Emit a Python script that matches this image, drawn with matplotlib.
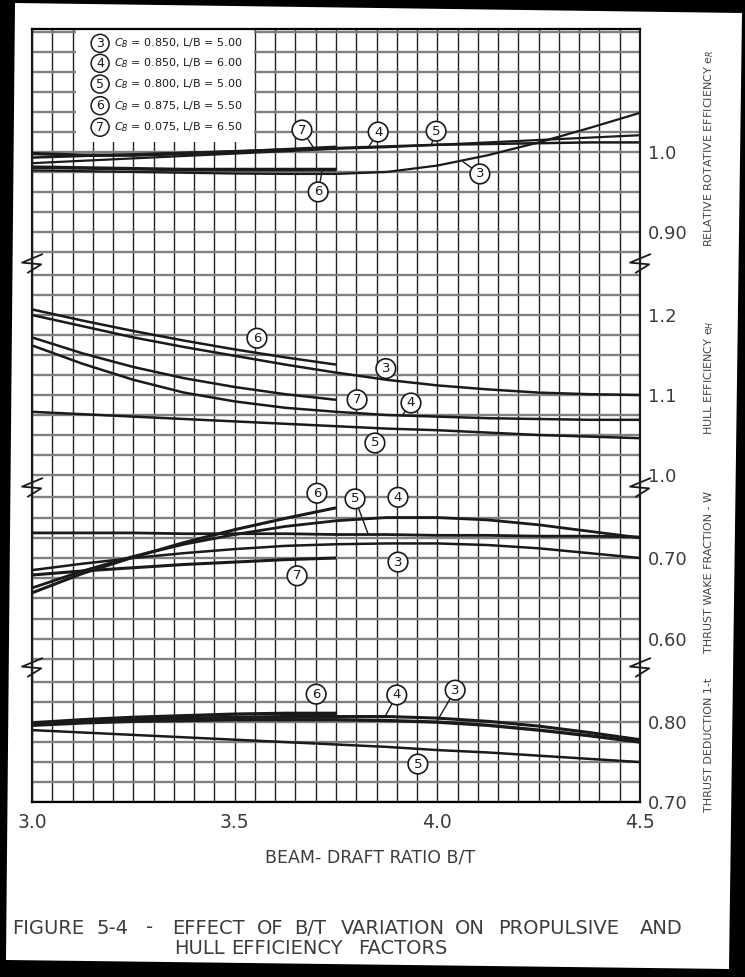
import matplotlib
matplotlib.use("Agg")
import matplotlib.pyplot as plt
from matplotlib.ticker import MultipleLocator, FixedLocator
from matplotlib.patches import Polygon, Rectangle

# ---- data ----
bt = [3.0, 3.125, 3.25, 3.375, 3.5, 3.625, 3.75, 3.875, 4.0, 4.125, 4.25, 4.375, 4.5]
bt_short = [3.0, 3.125, 3.25, 3.375, 3.5, 3.625, 3.75]

# relative rotative efficiency e_R
rr3 = [0.977, 0.976, 0.975, 0.974, 0.973, 0.9725, 0.9725, 0.975, 0.983, 0.996, 1.012, 1.030, 1.049]
rr4 = [0.993, 0.995, 0.997, 0.999, 1.001, 1.003, 1.005, 1.007, 1.009, 1.010, 1.011, 1.012, 1.012]
rr5 = [0.986, 0.989, 0.992, 0.995, 0.998, 1.001, 1.004, 1.006, 1.009, 1.012, 1.015, 1.018, 1.021]
rr6 = [0.981, 0.980, 0.979, 0.978, 0.978, 0.978, 0.978]
rr7 = [0.998, 0.996, 0.996, 0.998, 1.000, 1.003, 1.006]

# hull efficiency e_H
he3 = [1.200, 1.186, 1.172, 1.160, 1.149, 1.138, 1.128, 1.119, 1.112, 1.107, 1.103, 1.101, 1.100]
he4 = [1.162, 1.139, 1.119, 1.103, 1.092, 1.084, 1.079, 1.075, 1.073, 1.071, 1.070, 1.069, 1.069]
he5 = [1.079, 1.076, 1.073, 1.070, 1.067, 1.064, 1.061, 1.058, 1.056, 1.053, 1.050, 1.048, 1.046]
he6 = [1.207, 1.193, 1.180, 1.168, 1.157, 1.147, 1.138]
he7 = [1.172, 1.152, 1.135, 1.121, 1.110, 1.101, 1.094]

# thrust wake fraction
wf3 = [0.685, 0.693, 0.700, 0.706, 0.711, 0.715, 0.717, 0.718, 0.718, 0.716, 0.712, 0.706, 0.700]
wf4 = [0.663, 0.684, 0.702, 0.717, 0.729, 0.739, 0.746, 0.750, 0.750, 0.747, 0.741, 0.733, 0.725]
wf5 = [0.731, 0.731, 0.731, 0.730, 0.730, 0.730, 0.729, 0.729, 0.728, 0.728, 0.727, 0.727, 0.726]
wf6 = [0.657, 0.681, 0.701, 0.719, 0.735, 0.749, 0.762]
wf7 = [0.679, 0.684, 0.688, 0.692, 0.695, 0.698, 0.700]

# thrust deduction 1-t
td3 = [0.796, 0.799, 0.801, 0.802, 0.803, 0.803, 0.803, 0.802, 0.800, 0.796, 0.790, 0.783, 0.775]
td4 = [0.798, 0.801, 0.803, 0.805, 0.806, 0.807, 0.807, 0.807, 0.805, 0.801, 0.795, 0.787, 0.778]
td5 = [0.790, 0.787, 0.784, 0.781, 0.778, 0.775, 0.772, 0.769, 0.765, 0.762, 0.758, 0.754, 0.750]
td6 = [0.799, 0.803, 0.806, 0.808, 0.810, 0.811, 0.811]

legend_ids = ["3", "4", "5", "6", "7"]
legend_cb = ["0.850", "0.850", "0.800", "0.875", "0.075"]
legend_lb = ["5.00", "6.00", "5.00", "5.50", "6.50"]

# ---- layout (pixels of a 745x977 page) ----
W_PX, H_PX = 745, 977
sect_px = [(29, 263), (263, 487), (487, 667), (667, 802)]
ylims = [(0.861, 1.154), (0.985, 1.265), (0.5654, 0.7877), (0.70, 0.869)]
yticks = [[0.90, 1.0], [1.0, 1.1, 1.2], [0.60, 0.70], [0.70, 0.80]]
ytlabels = [["0.90", "1.0"], ["1.0", "1.1", "1.2"], ["0.60", "0.70"], ["0.70", "0.80"]]

ink = "#1a1a1a"
txt = "#3c3c3c"

fig = plt.figure(figsize=(7.45, 9.77), dpi=100, facecolor="black")
page = Polygon([(15 / W_PX, 1 - 3 / H_PX), (742 / W_PX, 1 - 13 / H_PX),
                (729 / W_PX, 1 - 969 / H_PX), (6 / W_PX, 1 - 960 / H_PX)],
               closed=True, transform=fig.transFigure, fc="white", ec="none", zorder=0)
fig.add_artist(page)

axes = []
for i, (t, b) in enumerate(sect_px):
    ax = fig.add_axes([32 / W_PX, 1 - b / H_PX, 608 / W_PX, (b - t) / H_PX])
    ax.set_facecolor("none")
    ax.set_xlim(3.0, 4.5)
    ax.set_ylim(*ylims[i])
    ax.xaxis.set_major_locator(FixedLocator([3.0, 3.5, 4.0, 4.5]))
    ax.xaxis.set_minor_locator(MultipleLocator(0.05))
    ax.yaxis.set_minor_locator(MultipleLocator(0.025))
    ax.set_yticks(yticks[i])
    ax.set_yticklabels(ytlabels[i])
    ax.yaxis.tick_right()
    ax.tick_params(axis="both", which="both", length=0)
    ax.tick_params(axis="y", labelsize=13, labelcolor=txt, pad=6)
    ax.tick_params(axis="x", labelsize=13.5, labelcolor=txt, pad=8,
                   labelbottom=(i == 3))
    ax.grid(which="both", axis="x", color="#222222", lw=1.0)
    ax.grid(which="both", axis="y", color="#808080", lw=1.7)
    for s in ["left", "right"]:
        ax.spines[s].set_linewidth(1.6)
        ax.spines[s].set_color(ink)
    ax.spines["top"].set_visible(i == 0)
    ax.spines["bottom"].set_visible(i == 3)
    ax.spines["top"].set_linewidth(1.6)
    ax.spines["bottom"].set_linewidth(1.6)
    axes.append(ax)

ax1, ax2, ax3, ax4 = axes

# break marks between sections
zig = [(0.6, 0.55), (-0.6, 0.05), (0.5, -0.05), (-0.3, -0.55)]
for ax in axes[1:]:
    ax.plot([0, 1], [1, 1], transform=ax.transAxes, ls="none", marker=zig,
            ms=15, mfc="none", mec=ink, mew=1.3, clip_on=False, zorder=5)

def curve(ax, x, y, lw=1.8):
    ax.plot(x, y, color=ink, lw=lw, solid_capstyle="butt", solid_joinstyle="round", zorder=3)

curve(ax1, bt, rr3, 1.6)
curve(ax1, bt, rr4, 1.8)
curve(ax1, bt, rr5, 1.6)
curve(ax1, bt_short, rr6, 2.6)
curve(ax1, bt_short, rr7, 2.4)

curve(ax2, bt, he3)
curve(ax2, bt, he4)
curve(ax2, bt, he5)
curve(ax2, bt_short, he6)
curve(ax2, bt_short, he7)

curve(ax3, bt, wf3)
curve(ax3, bt, wf4, 2.0)
curve(ax3, bt, wf5, 2.0)
curve(ax3, bt_short, wf6, 2.2)
curve(ax3, bt_short, wf7, 2.2)

curve(ax4, bt, td3, 2.4)
curve(ax4, bt, td4, 2.2)
curve(ax4, bt, td5, 1.8)
curve(ax4, bt_short, td6, 2.4)

# circled curve numbers: (axes, id, label pos, leader target or None)
tags = [
    (ax1, "7", (3.666, 1.0275), (3.695, 1.005)),
    (ax1, "4", (3.854, 1.025), (3.830, 1.006)),
    (ax1, "5", (3.997, 1.026), (3.985, 1.009)),
    (ax1, "3", (4.105, 0.9725), (4.063, 0.988)),
    (ax1, "6", (3.706, 0.950), (3.716, 0.977)),
    (ax2, "6", (3.555, 1.171), None),
    (ax2, "3", (3.873, 1.133), None),
    (ax2, "7", (3.802, 1.094), None),
    (ax2, "4", (3.935, 1.090), (3.913, 1.074)),
    (ax2, "5", (3.846, 1.040), None),
    (ax3, "6", (3.703, 0.780), None),
    (ax3, "5", (3.797, 0.773), (3.829, 0.730)),
    (ax3, "4", (3.903, 0.775), None),
    (ax3, "3", (3.903, 0.695), None),
    (ax3, "7", (3.654, 0.678), None),
    (ax4, "6", (3.701, 0.835), None),
    (ax4, "4", (3.900, 0.834), (3.871, 0.807)),
    (ax4, "3", (4.044, 0.840), (3.999, 0.801)),
    (ax4, "5", (3.952, 0.7475), None),
]
circ = dict(boxstyle="circle,pad=0.25", fc="white", ec=ink, lw=1.2)
for ax, n, pos, tgt in tags:
    if tgt is None:
        ax.text(pos[0], pos[1], n, ha="center", va="center", fontsize=9.5,
                color=ink, bbox=circ, zorder=6, clip_on=False)
    else:
        ax.annotate(n, xy=tgt, xytext=pos, ha="center", va="center", fontsize=9.5,
                    color=ink, bbox=circ, zorder=6, annotation_clip=False,
                    arrowprops=dict(arrowstyle="-", color=ink, lw=1.0,
                                    shrinkA=0, shrinkB=0))

# legend block
ax1.add_patch(Rectangle((3.108, 1.012), 0.440, 0.2, fc="white", ec="none", zorder=2))
leg_y = [1.136, 1.111, 1.085, 1.058, 1.031]
for n, cb, lb, y in zip(legend_ids, legend_cb, legend_lb, leg_y):
    ax1.text(3.168, y, n, ha="center", va="center", fontsize=9, color=ink,
             bbox=dict(boxstyle="circle,pad=0.2", fc="white", ec=ink, lw=1.1), zorder=6)
    ax1.text(3.203, y, "$C_B$ = %s, L/B = %s" % (cb, lb), ha="left", va="center",
             fontsize=8, color=ink, zorder=6)

# side labels
side = [("RELATIVE ROTATIVE EFFICIENCY e$_R$", 148),
        ("HULL EFFICIENCY e$_H$", 378),
        ("THRUST WAKE FRACTION - W", 572),
        ("THRUST DEDUCTION 1-t", 745)]
for s, ypx in side:
    fig.text(709 / W_PX, 1 - ypx / H_PX, s, rotation=90, ha="center", va="center",
             fontsize=8, color="#444444")

fig.text(370 / W_PX, 1 - 857 / H_PX, "BEAM- DRAFT RATIO B/T", ha="center",
         va="center", fontsize=12.5, color=txt)

# caption, word by word to get the wide letter spacing of the original
cap1 = [("FIGURE", 12), ("5-4", 96), ("-", 146), ("EFFECT", 172), ("OF", 257),
        ("B/T", 294), ("VARIATION", 341), ("ON", 455), ("PROPULSIVE", 498), ("AND", 640)]
cap2 = [("HULL", 174), ("EFFICIENCY", 231), ("FACTORS", 358)]
for words, ypx in [(cap1, 928), (cap2, 948)]:
    for w, xpx in words:
        fig.text(xpx / W_PX, 1 - ypx / H_PX, w, ha="left", va="center",
                 fontsize=14, color=txt)

fig.savefig("out.png", dpi=100, facecolor="black")
